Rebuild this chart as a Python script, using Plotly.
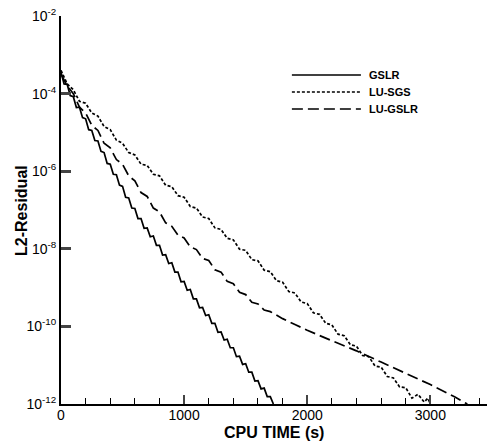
import plotly.graph_objects as go

# ---- data (exponents of L2 residual) ----
gslr_t = [0, 25, 50, 75, 100, 125, 150, 175, 200, 225, 250, 275, 300, 325, 350, 375, 400,
          425, 450, 475, 500, 525, 550, 575, 600, 625, 650, 675, 700, 725, 750, 775, 800,
          825, 850, 875, 900, 925, 950, 975, 1000, 1025, 1050, 1075, 1100, 1125, 1150,
          1175, 1200, 1225, 1250, 1275, 1300, 1325, 1350, 1375, 1400, 1425, 1450, 1475,
          1500, 1525, 1550, 1575, 1600, 1625, 1650, 1675, 1700, 1725]
gslr_e = [-3.45, -3.75, -3.76, -4.05, -4.08, -4.36, -4.35, -4.62, -4.65, -4.93, -4.95, -5.21,
          -5.22, -5.49, -5.52, -5.80, -5.82, -6.08, -6.09, -6.36, -6.39, -6.67, -6.69, -6.95,
          -6.96, -7.22, -7.22, -7.47, -7.46, -7.69, -7.67, -7.91, -7.91, -8.16, -8.15, -8.38,
          -8.36, -8.60, -8.60, -8.85, -8.84, -9.07, -9.05, -9.29, -9.29, -9.52, -9.51, -9.72,
          -9.70, -9.92, -9.92, -10.15, -10.14, -10.35, -10.33, -10.55, -10.55, -10.78, -10.77,
          -10.98, -10.96, -11.18, -11.18, -11.41, -11.40, -11.61, -11.59, -11.81, -11.81, -12.0]

lusgs_t = [0, 50, 100, 150, 200, 250, 300, 350, 400, 450, 500, 550, 600, 650, 700, 750, 800,
           850, 900, 950, 1000, 1050, 1100, 1150, 1200, 1250, 1300, 1350, 1400, 1450, 1500,
           1550, 1600, 1650, 1700, 1750, 1800, 1850, 1900, 1950, 2000, 2050, 2100, 2150, 2200,
           2250, 2300, 2350, 2400, 2450, 2500, 2550, 2600, 2650, 2700, 2750, 2800, 2850, 2900,
           2950, 2980, 3000]
lusgs_e = [-3.40, -3.75, -3.90, -4.20, -4.25, -4.50, -4.58, -4.85, -4.93, -5.20, -5.28, -5.52,
           -5.58, -5.82, -5.85, -6.08, -6.12, -6.36, -6.40, -6.63, -6.67, -6.91, -6.95, -7.18,
           -7.22, -7.46, -7.50, -7.73, -7.77, -8.01, -8.04, -8.28, -8.31, -8.55, -8.59, -8.82,
           -8.86, -9.10, -9.14, -9.37, -9.41, -9.65, -9.69, -9.92, -9.96, -10.20, -10.24, -10.47,
           -10.51, -10.75, -10.78, -11.02, -11.05, -11.29, -11.33, -11.56, -11.58, -11.85, -11.75,
           -11.95, -11.85, -12.0]

lugslr_t = [0, 50, 100, 150, 200, 250, 300, 350, 400, 450, 500, 550, 600, 650, 700, 750, 800,
            850, 900, 950, 1000, 1050, 1100, 1150, 1200, 1250, 1300, 1350, 1400, 1450, 1500,
            1550, 1600, 1650, 1700, 1800, 1900, 2000, 2200, 2400, 2600, 2800, 3000, 3200, 3300]
lugslr_e = [-3.50, -3.80, -4.00, -4.35, -4.50, -4.82, -4.95, -5.28, -5.40, -5.70, -5.82, -6.12,
            -6.25, -6.55, -6.65, -6.95, -7.05, -7.33, -7.42, -7.65, -7.72, -7.95, -8.02, -8.25,
            -8.30, -8.54, -8.60, -8.84, -8.90, -9.12, -9.18, -9.38, -9.42, -9.58, -9.62, -9.80,
            -9.95, -10.10, -10.37, -10.63, -10.92, -11.20, -11.50, -11.82, -12.0]

series_names = ["GSLR", "LU-SGS", "LU-GSLR"]
x_ticks = [0, 1000, 2000, 3000]
y_exps = [-12, -10, -8, -6, -4, -2]
y_ticktext = ["10<sup>%d</sup>" % e for e in y_exps]
x_title = "CPU TIME (s)"
y_title = "L2-Residual"

# ---- figure ----
F = "Liberation Sans, Arial, sans-serif"
dashes = ["solid", "3px,2px", "11px,5px"]
datasets = [(gslr_t, gslr_e), (lusgs_t, lusgs_e), (lugslr_t, lugslr_e)]

fig = go.Figure()
for (t, e), name, d in zip(datasets, series_names, dashes):
    fig.add_trace(go.Scatter(x=t, y=[10 ** v for v in e], mode="lines", name=name,
                             line=dict(color="black", width=1.7, dash=d),
                             showlegend=False))

# manual legend (long line samples as in the original)
ly = [0.848, 0.804, 0.760]
for yy, name, d in zip(ly, series_names, dashes):
    fig.add_shape(type="line", xref="paper", yref="paper", x0=0.542, x1=0.704, y0=yy, y1=yy,
                  line=dict(color="black", width=1.5, dash=d))
    fig.add_annotation(xref="paper", yref="paper", x=0.718, y=yy, text="<b>%s</b>" % name,
                       showarrow=False, xanchor="left", yanchor="middle",
                       font=dict(family=F, size=11, color="black"))

# axis titles
fig.add_annotation(xref="paper", yref="paper", x=0.5, y=-0.0745, text="<b>%s</b>" % x_title,
                   showarrow=False, xanchor="center", yanchor="middle",
                   font=dict(family=F, size=16, color="black"))
fig.add_annotation(xref="paper", yref="paper", x=-0.094, y=0.5, text="<b>%s</b>" % y_title,
                   showarrow=False, xanchor="center", yanchor="middle", textangle=-90,
                   font=dict(family=F, size=16, color="black"))

fig.update_layout(
    width=487, height=444,
    margin=dict(l=61, r=0, t=16, b=40),
    paper_bgcolor="white", plot_bgcolor="white",
    font=dict(family=F, size=14, color="black"),
    xaxis=dict(range=[0, 3460], tickvals=x_ticks, ticks="inside", ticklen=9, tickwidth=2,
               ticklabelstandoff=-3,
               showline=True, linewidth=2, linecolor="black", showgrid=False, zeroline=False,
               minor=dict(dtick=200, tick0=0, ticks="inside", ticklen=6, tickwidth=1.2,
                          tickcolor="black", showgrid=False)),
    yaxis=dict(type="log", range=[-12, -2], tickvals=[10 ** e for e in y_exps],
               ticktext=y_ticktext, ticks="inside", ticklen=10, tickwidth=2.5,
               showline=True, linewidth=2, linecolor="black", showgrid=False, zeroline=False),
)

fig.write_html("out.html")
